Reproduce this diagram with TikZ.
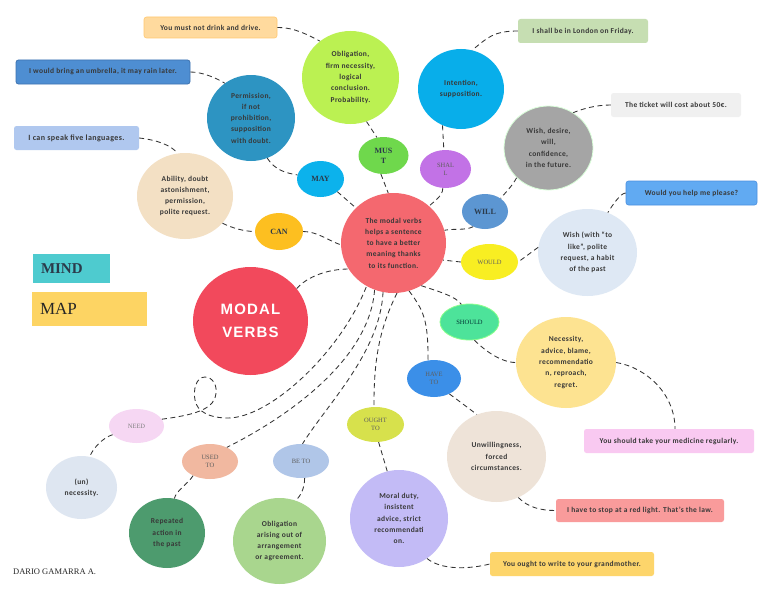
\documentclass[tikz,border=0pt]{standalone}
\usepackage{fontspec}
\setmainfont{Carlito}[LetterSpace=5]
\newfontfamily\serf{Liberation Serif}
\newfontfamily\titlef[LetterSpace=8]{Liberation Sans}
\usetikzlibrary{shapes.geometric}
\definecolor{txt}{HTML}{383838}
\definecolor{labc}{HTML}{2B3A4A}
\definecolor{slabc}{HTML}{5E5E5E}
\definecolor{conc}{HTML}{333333}
\definecolor{cCenter}{HTML}{F4686F}
\definecolor{cModal}{HTML}{F2495C}
\definecolor{cMind}{HTML}{4ECBCF}
\definecolor{cMap}{HTML}{FDD463}
\definecolor{cMustM}{HTML}{BBF152}
\definecolor{cMust}{HTML}{6FD84C}
\definecolor{cMayM}{HTML}{2D94C2}
\definecolor{cMay}{HTML}{0CB2EC}
\definecolor{cCanM}{HTML}{F3E0C4}
\definecolor{cCan}{HTML}{FDBF20}
\definecolor{cShallM}{HTML}{08AEEA}
\definecolor{cShall}{HTML}{C272E6}
\definecolor{cWillM}{HTML}{A5A5A5}
\definecolor{cWill}{HTML}{5C96D2}
\definecolor{cWouldM}{HTML}{DEE8F4}
\definecolor{cWould}{HTML}{F8EE22}
\definecolor{cShould}{HTML}{4DE39A}
\definecolor{cShouldM}{HTML}{FDE391}
\definecolor{cHave}{HTML}{3B8FE8}
\definecolor{cHaveM}{HTML}{EEE3D8}
\definecolor{cOught}{HTML}{D7E14C}
\definecolor{cOughtM}{HTML}{C3BBF6}
\definecolor{cNeed}{HTML}{F6D7F3}
\definecolor{cNeedM}{HTML}{DEE6F1}
\definecolor{cUsed}{HTML}{F1B8A0}
\definecolor{cUsedM}{HTML}{4D9B6E}
\definecolor{cBeto}{HTML}{B0C6E8}
\definecolor{cBetoM}{HTML}{A9D68E}
\definecolor{bA}{HTML}{FFDA9E}
\definecolor{bAd}{HTML}{FFC870}
\definecolor{bB}{HTML}{4E8ED2}
\definecolor{bBd}{HTML}{3D72B0}
\definecolor{bC}{HTML}{B0C8EF}
\definecolor{bD}{HTML}{C6DEB2}
\definecolor{bE}{HTML}{F0F0F0}
\definecolor{bF}{HTML}{61AAF2}
\definecolor{bFd}{HTML}{4A90E0}
\definecolor{bG}{HTML}{F9C9F1}
\definecolor{bH}{HTML}{F99B9B}
\definecolor{bI}{HTML}{FDD56B}
\begin{document}
\begin{tikzpicture}[x=1pt,y=-1pt,
  bub/.style={ellipse, inner sep=0pt, align=center, font=\fontsize{7.5}{11.3}\selectfont\bfseries, text=txt},
  lab/.style={ellipse, inner sep=0pt, align=center, font=\serf\fontsize{8}{10}\selectfont\bfseries, text=labc},
  slab/.style={ellipse, inner sep=0pt, align=center, font=\serf\fontsize{6.5}{8.3}\selectfont, text=slabc},
  ex/.style={rectangle, rounded corners=2.5pt, inner sep=0pt, font=\fontsize{7.5}{8}\selectfont\bfseries, text=txt},
  con/.style={draw=conc, dash pattern=on 5pt off 3.5pt, line width=0.85pt}
]
\fill[white] (0,0) rectangle (768,594);
\useasboundingbox (0,0) rectangle (768,594);

% center and title
\node[bub, fill=cCenter, minimum width=105pt, minimum height=100pt] (center) at (393.5,243)
  {The modal verbs\\helps a sentence\\to have a better\\meaning thanks\\to its function.};
\node[ellipse, inner sep=0pt, fill=cModal, minimum width=115pt, minimum height=108pt, align=center,
  text=white, font=\titlef\bfseries\fontsize{15}{23}\selectfont] (modal) at (250.5,321) {MODAL\\VERBS};
\node[rectangle, fill=cMind, inner xsep=8pt, inner ysep=0pt, text width=61pt, minimum height=29pt, align=left,
  text=labc, font=\serf\bfseries\fontsize{15}{15}\selectfont] (mind) at (71.5,268.5) {MIND};
\node[rectangle, fill=cMap, inner xsep=8pt, inner ysep=0pt, text width=99pt, minimum height=34pt, align=left,
  text=black!85, font=\serf\fontsize{17}{17}\selectfont] (map) at (89.5,309) {MAP};
\node[anchor=west, inner sep=0pt, font=\serf\fontsize{8.5}{10}\selectfont, text=black!85] (author) at (13,572) {DARIO GAMARRA A.};

% meaning bubbles
\node[bub, fill=cMustM, minimum width=97pt, minimum height=93pt] (mustm) at (350.5,77.5)
  {Obligation,\\firm necessity,\\logical\\conclusion.\\Probability.};
\node[bub, fill=cMayM, minimum width=88pt, minimum height=86pt] (maym) at (251,118)
  {Permission,\\if not\\prohibition,\\supposition\\with doubt.};
\node[bub, fill=cCanM, minimum width=96pt, minimum height=86pt] (canm) at (185,196)
  {Ability, doubt\\astonishment,\\permission,\\polite request.};
\node[bub, fill=cShallM, minimum width=86pt, minimum height=80pt] (shallm) at (461,89)
  {Intention,\\supposition.};
\node[bub, fill=cWillM, draw=green!15!white, line width=0.8pt, minimum width=89pt, minimum height=84pt] (willm) at (548.5,148)
  {Wish, desire,\\will,\\confidence,\\in the future.};
\node[bub, fill=cWouldM, minimum width=99pt, minimum height=87pt] (wouldm) at (587.5,252.5)
  {Wish (with “to\\like”, polite\\request, a habit\\of the past};
\node[bub, fill=cShouldM, minimum width=100pt, minimum height=91pt] (shouldm) at (566,362.5)
  {Necessity,\\advice, blame,\\recommendatio\\n, reproach,\\regret.};
\node[bub, fill=cHaveM, minimum width=99pt, minimum height=91pt] (havem) at (496.5,456.5)
  {Unwillingness,\\forced\\circumstances.};
\node[bub, fill=cOughtM, minimum width=98pt, minimum height=97pt] (oughtm) at (399,518.5)
  {Moral duty,\\insistent\\advice, strict\\recommendati\\on.};
\node[bub, fill=cNeedM, minimum width=71pt, minimum height=63pt] (needm) at (81.5,487.5)
  {(un)\\necessity.};
\node[bub, fill=cUsedM, minimum width=76pt, minimum height=70pt] (usedm) at (167,533)
  {Repeated\\action in\\the past};
\node[bub, fill=cBetoM, minimum width=93pt, minimum height=86pt] (betom) at (279.5,541)
  {Obligation\\arising out of\\arrangement\\or agreement.};

% verb labels
\node[lab, fill=cMust, minimum width=50pt, minimum height=37pt] (must) at (383.5,155.5) {MUS\\T};
\node[lab, fill=cMay, minimum width=47pt, minimum height=36pt] (may) at (320.5,179) {MAY};
\node[lab, fill=cCan, minimum width=48pt, minimum height=37pt] (can) at (279,231.5) {CAN};
\node[slab, fill=cShall, minimum width=51pt, minimum height=38pt] (shall) at (445.5,169) {SHAL\\L};
\node[lab, fill=cWill, minimum width=46pt, minimum height=35pt] (will) at (485,211.5) {WILL};
\node[slab, fill=cWould, minimum width=57pt, minimum height=36pt] (would) at (489.5,262) {WOULD};
\node[slab, fill=cShould, draw=green!45!white, line width=0.8pt, minimum width=59pt, minimum height=36pt, text=teal!40!black] (should) at (469.5,322) {SHOULD};
\node[slab, fill=cHave, minimum width=54pt, minimum height=37pt] (have) at (434,378.5) {HAVE\\TO};
\node[slab, fill=cOught, minimum width=57pt, minimum height=35pt] (ought) at (375.5,424.5) {OUGHT\\TO};
\node[slab, fill=cNeed, minimum width=55pt, minimum height=34pt, text=black!50] (need) at (136.5,426) {NEED};
\node[slab, fill=cUsed, minimum width=56pt, minimum height=35pt] (used) at (210,461.5) {USED\\TO};
\node[slab, fill=cBeto, minimum width=56pt, minimum height=34pt] (beto) at (301,461) {BE TO};

% example boxes
\node[ex, fill=bA, draw=bAd, line width=0.6pt, minimum width=133pt, minimum height=21pt] (b1) at (210.5,27.5) {You must not drink and drive.};
\node[ex, fill=bB, draw=bBd, line width=0.8pt, minimum width=174pt, minimum height=24pt] (b2) at (103,72) {I would bring an umbrella, it may rain later.};
\node[ex, fill=bC, minimum width=125pt, minimum height=24pt, font=\fontsize{8}{8}\selectfont\bfseries] (b3) at (76.5,138) {I can speak five languages.};
\node[ex, fill=bD, minimum width=130pt, minimum height=24pt] (b4) at (583,31) {I shall be in London on Friday.};
\node[ex, fill=bE, minimum width=130pt, minimum height=24pt] (b5) at (676,105) {The ticket will cost about 50€.};
\node[ex, fill=bF, draw=bFd, line width=0.6pt, minimum width=131pt, minimum height=24pt] (b6) at (691.5,193) {Would you help me please?};
\node[ex, fill=bG, minimum width=170pt, minimum height=24pt] (b7) at (669,441) {You should take your medicine regularly.};
\node[ex, fill=bH, minimum width=168pt, minimum height=23pt] (b8) at (640,510.5) {I have to stop at a red light. That's the law.};
\node[ex, fill=bI, minimum width=164pt, minimum height=24pt] (b9) at (572,564) {You ought to write to your grandmother.};

% connectors
\draw[con] (b1.east) .. controls +(18,0) and +(-12,-6) .. (mustm.130);
\draw[con] (mustm.-70) -- (must.110);
\draw[con] (must.262) -- (center.96);
\draw[con] (b2.east) .. controls +(12,0) and +(-8,-5) .. (maym.127);
\draw[con] (maym.-68) .. controls +(8,12) and +(-12,-2) .. (may.170);
\draw[con] (may.-37) -- (center.137);
\draw[con] (b3.east) .. controls +(18,2) and +(-6,-8) .. (canm.100);
\draw[con] (canm.-36) .. controls +(10,5) and +(-10,0) .. (can.west);
\draw[con] (can.east) .. controls +(14,0) and +(-12,-4) .. (center.182);
\draw[con] (modal.35) .. controls +(10,-12) and +(-20,0) .. (center.210);
\draw[con] (need.15) .. controls (185,416) and (210,412) .. (215,398)
  .. controls (219,385) and (212,377) .. (205,377)
  .. controls (196,377) and (193,390) .. (195,400)
  .. controls (197,412) and (210,418) .. (228,418)
  .. controls (270,418) and (341,352) .. (center.238);
\draw[con] (center.248) .. controls +(-5,70) and +(60,-30) .. (used.40);
\draw[con] (center.258) .. controls +(-3,60) and +(25,-40) .. (beto.85);
\draw[con] (center.-86) .. controls +(-20,40) and +(0,-40) .. (ought.95);
\draw[con] (center.-72) .. controls +(15,20) and +(0,-40) .. (have.108);
\draw[con] (center.-57) .. controls +(15,5) and +(-5,-8) .. (should.115);
\draw[con] (should.-75) .. controls +(10,10) and +(-15,0) .. (shouldm.180);
\draw[con] (shouldm.east) .. controls +(30,5) and +(0,-35) .. ([xshift=6pt]b7.north);
\draw[con] (have.-45) -- (havem.115);
\draw[con] (havem.-62) .. controls +(10,10) and +(-15,0) .. (b8.west);
\draw[con] (ought.-80) -- (oughtm.104);
\draw[con] (oughtm.-55) .. controls +(15,12) and +(-20,5) .. (b9.west);
\draw[con] (need.200) .. controls +(-10,3) and +(3,-8) .. (needm.75);
\draw[con] (used.220) .. controls +(-5,8) and +(2,-8) .. (usedm.78);
\draw[con] (beto.-78) .. controls +(0,10) and +(5,-5) .. (betom.68);
\draw[con] (b4.west) .. controls +(-25,0) and +(15,-12) .. (shallm.74);
\draw[con] (shallm.243) -- (shall.95);
\draw[con] (shall.262) .. controls +(0,8) and +(5,-5) .. (center.46);
\draw[con] (b5.west) .. controls +(-15,0) and +(10,-4) .. (willm.55);
\draw[con] (willm.223) .. controls +(-4,8) and +(4,-5) .. (will.40);
\draw[con] (will.232) .. controls +(-8,4) and +(10,-2) .. (center.14);
\draw[con] (b6.west) .. controls +(-5,0) and +(5,-8) .. (wouldm.63);
\draw[con] (wouldm.174) -- (would.east);
\draw[con] (would.west) -- (center.-19);
\end{tikzpicture}
\end{document}
